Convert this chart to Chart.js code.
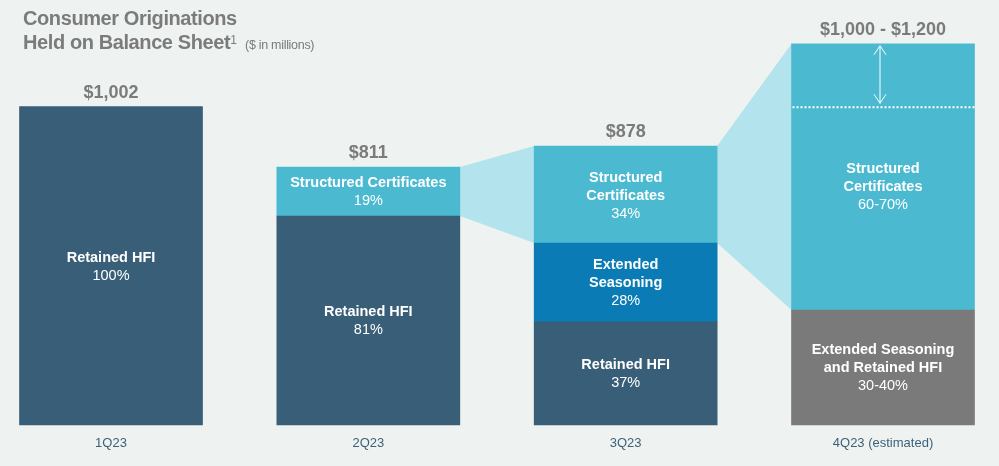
<!DOCTYPE html>
<html><head><meta charset="utf-8">
<script src="https://cdn.jsdelivr.net/npm/chart.js@4"></script>
<style>
html,body{margin:0;padding:0;background:#eef3f1;overflow:hidden;}
#wrap{position:relative;width:999px;height:466px;}
#title{position:absolute;left:23px;top:6px;font-family:"Liberation Sans",Arial,sans-serif;font-weight:bold;color:#7b7b7b;font-size:20px;line-height:24px;letter-spacing:-0.4px;z-index:2;}
#title sup{font-size:12px;font-weight:normal;vertical-align:top;position:relative;top:-2px;letter-spacing:0;}
#title small{font-size:12.5px;font-weight:normal;letter-spacing:-0.3px;margin-left:3px;}
canvas{position:absolute;left:0;top:0;}
</style></head>
<body>
<div id="wrap">
<div id="title">Consumer Originations<br>Held on Balance Sheet<sup>1</sup> <small>($ in millions)</small></div>
<canvas id="c" width="999" height="466"></canvas>
</div>
<script>
// ---- data ----
const categories = ['1Q23', '2Q23', '3Q23', '4Q23 (estimated)'];
const retainedHFI = [1002, 658, 325, null];
const extendedSeasoning = [null, null, 248, null];
const extendedAndRetained = [null, null, null, 362];
const structuredCertificates = [null, 154, 305, 638];
const estimateRange = [null, null, null, 200];
const totalLabels = ['$1,002', '$811', '$878', '$1,000 - $1,200'];
const retainedLabels = [['Retained HFI', '100%'], ['Retained HFI', '81%'], ['Retained HFI', '37%'], null];
const extendedLabels = [null, null, ['Extended', 'Seasoning', '28%'], null];
const extRetLabels = [null, null, null, ['Extended Seasoning', 'and Retained HFI', '30-40%']];
const structuredLabels = [null, ['Structured Certificates', '19%'], ['Structured', 'Certificates', '34%'], ['Structured', 'Certificates', '60-70%']];

const C_RET = '#385e78', C_EXT = '#0a7bb5', C_GRAY = '#7a7a7a', C_STR = '#4bbad1', C_CONN = '#b3e3ec';
const FONT = '"Liberation Sans", Arial, sans-serif';

const connectorPlugin = {
  id: 'connectors',
  beforeDatasetsDraw(chart) {
    const ctx = chart.ctx;
    const s = chart.getDatasetMeta(3).data;
    const r = chart.getDatasetMeta(4).data;
    ctx.save();
    ctx.fillStyle = C_CONN;
    const pairs = [[1, 2], [2, 3]];
    pairs.forEach(([a, b]) => {
      const ea = s[a], eb = s[b];
      const topA = (r[a] && estimateRange[a] != null) ? r[a].y : ea.y;
      const topB = (r[b] && estimateRange[b] != null) ? r[b].y : eb.y;
      ctx.beginPath();
      ctx.moveTo(ea.x + ea.width / 2, topA);
      ctx.lineTo(eb.x - eb.width / 2, topB);
      ctx.lineTo(eb.x - eb.width / 2, eb.base);
      ctx.lineTo(ea.x + ea.width / 2, ea.base);
      ctx.closePath();
      ctx.fill();
    });
    ctx.restore();
  }
};

function drawLines(ctx, lines, x, cy) {
  const lh = 18;
  const y0 = cy - (lines.length - 1) * lh / 2;
  lines.forEach((t, i) => {
    ctx.font = (i < lines.length - 1 ? 'bold ' : '') + '14.5px ' + FONT;
    ctx.fillText(t, x, y0 + i * lh);
  });
}

const labelPlugin = {
  id: 'labels',
  afterDatasetsDraw(chart) {
    const ctx = chart.ctx;
    ctx.save();
    ctx.textAlign = 'center';
    ctx.textBaseline = 'middle';
    ctx.fillStyle = '#ffffff';
    const sets = [[0, retainedLabels], [1, extendedLabels], [2, extRetLabels], [3, structuredLabels]];
    sets.forEach(([di, labs]) => {
      const meta = chart.getDatasetMeta(di);
      labs.forEach((lines, i) => {
        if (!lines) return;
        const el = meta.data[i];
        let cy = (el.y + el.base) / 2;
        if (di === 3 && estimateRange[i] != null) {
          const rEl = chart.getDatasetMeta(4).data[i];
          cy = (rEl.y + el.base) / 2 + 9;
        }
        drawLines(ctx, lines, el.x, cy + 1);
      });
    });
    // range dotted line + arrow
    estimateRange.forEach((v, i) => {
      if (v == null) return;
      const el = chart.getDatasetMeta(4).data[i];
      const yLow = el.base, yHigh = el.y;
      ctx.strokeStyle = '#ffffff';
      ctx.lineWidth = 2;
      ctx.setLineDash([2, 2]);
      ctx.beginPath();
      ctx.moveTo(el.x - el.width / 2 + 1, yLow);
      ctx.lineTo(el.x + el.width / 2, yLow);
      ctx.stroke();
      ctx.setLineDash([]);
      ctx.lineWidth = 1;
      const ax = el.x - 3;
      const a1 = yHigh + 2, a2 = yLow - 4;
      ctx.beginPath();
      ctx.moveTo(ax, a1); ctx.lineTo(ax, a2);
      ctx.moveTo(ax - 6, a1 + 9); ctx.lineTo(ax, a1); ctx.lineTo(ax + 6, a1 + 9);
      ctx.moveTo(ax - 6, a2 - 9); ctx.lineTo(ax, a2); ctx.lineTo(ax + 6, a2 - 9);
      ctx.stroke();
    });
    // totals
    ctx.fillStyle = '#7b7b7b';
    ctx.font = 'bold 18px ' + FONT;
    categories.forEach((c, i) => {
      let top = Infinity, x = 0;
      chart.data.datasets.forEach((d, di) => {
        if (d.data[i] == null) return;
        const el = chart.getDatasetMeta(di).data[i];
        if (el.y < top) { top = el.y; x = el.x; }
      });
      ctx.fillText(totalLabels[i], x, top - 14);
    });
    ctx.restore();
  }
};

const common = { barThickness: 183, borderWidth: 0, clip: false, stack: 's' };
new Chart(document.getElementById('c'), {
  type: 'bar',
  data: {
    labels: categories,
    datasets: [
      { label: 'Retained HFI', data: retainedHFI, backgroundColor: C_RET, ...common },
      { label: 'Extended Seasoning', data: extendedSeasoning, backgroundColor: C_EXT, ...common },
      { label: 'Extended Seasoning and Retained HFI', data: extendedAndRetained, backgroundColor: C_GRAY, ...common },
      { label: 'Structured Certificates', data: structuredCertificates, backgroundColor: C_STR, ...common },
      { label: 'Estimate range', data: estimateRange, backgroundColor: C_STR, ...common }
    ]
  },
  options: {
    responsive: false,
    animation: false,
    layout: { padding: { left: 111, right: 116, top: 12, bottom: 0 } },
    plugins: { legend: { display: false }, tooltip: { enabled: false } },
    scales: {
      x: {
        stacked: true, offset: false,
        grid: { display: false, drawTicks: false }, border: { display: false },
        ticks: { color: '#3d6079', font: { family: FONT, size: 13 }, padding: 11, maxRotation: 0, autoSkip: false },
        afterFit: s => { s.height = 41; }
      },
      y: { stacked: true, display: false, min: 0, max: 1300 }
    }
  },
  plugins: [connectorPlugin, labelPlugin]
});
</script>
</body></html>
